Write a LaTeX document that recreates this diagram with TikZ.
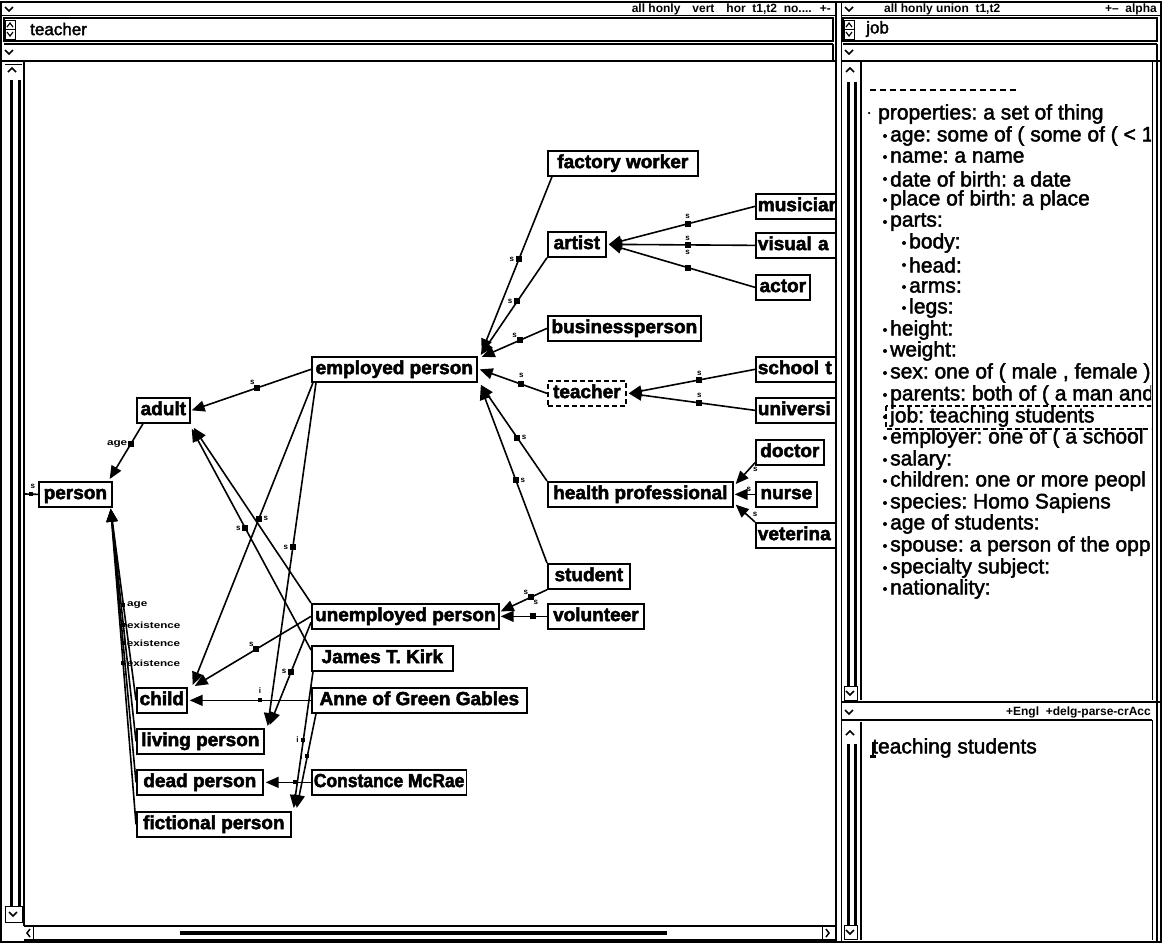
\documentclass[tikz,border=0pt]{standalone}
\usepackage{fontspec}
\setmainfont{Liberation Sans}
\newfontfamily\widefont[FakeStretch=1.3]{Liberation Sans}
\newfontfamily\nodefont[UprightFont=* Bold,FakeBold=2.5]{Liberation Sans}
\newfontfamily\narrownodefont[UprightFont=* Bold,FakeBold=2.5,FakeStretch=0.92]{Liberation Sans}
\newfontfamily\listfont[FakeBold=2]{Liberation Sans}
\usetikzlibrary{arrows.meta}
\newcommand\mydown[2]{\draw[chev] (#1-4,#2-2) -- (#1,#2+2) -- (#1+4,#2-2);}
\newcommand\myup[2]{\draw[chev] (#1-4,#2+2) -- (#1,#2-2) -- (#1+4,#2+2);}
\begin{document}
\frenchspacing
\begin{tikzpicture}[x=1pt,y=-1pt,
 nb/.style={draw,line width=1.7pt,anchor=north west,inner xsep=2pt,inner ysep=0pt,minimum height=25pt,text height=13.5pt,text depth=4pt,font=\nodefont\fontsize{19}{20}\selectfont},
 ln/.style={line width=1.6pt},
 arr/.style={ln,-{Triangle[length=13pt,width=11pt]}},
 mk/.style={fill,rectangle,minimum size=6pt,inner sep=0pt},
 sl/.style={font=\fontsize{8}{8}\selectfont\bfseries,inner sep=1pt},
 el/.style={font=\widefont\fontsize{9}{9}\selectfont\bfseries,inner sep=0pt},
 li/.style={font=\listfont\fontsize{21}{21}\selectfont,anchor=west,inner sep=0pt},
 tb/.style={font=\fontsize{12}{12}\selectfont\bfseries,inner sep=0pt},
 bar/.style={line width=1.2pt},
 chev/.style={line width=1.5pt},
 dot/.style={fill,circle,inner sep=0pt,minimum size=4pt},
]
\useasboundingbox (0,0) rectangle (1162,943);
\fill[white] (0,0) rectangle (1162,943);

% ---------- window frames ----------
\draw[line width=2pt] (1,2) rectangle (1161,942);
\draw[line width=2pt] (836,2) -- (836,942);
\draw[line width=1pt] (841,2) -- (841,942);

% left title bar
\mydown{9}{9}
\node[tb,anchor=east] at (812,9) {all honly\quad vert\quad hor\ \ t1,t2\ \ no....};
\node[tb,anchor=east] at (831,9) {+-};
\draw[bar] (2,15.5) -- (836,15.5);
% teacher bar
\draw[bar] (4,18) rectangle (833,41);
\draw[line width=1pt] (5,20) rectangle (15,39);
\draw[line width=1pt] (5,29.5) -- (15,29.5);
\draw[line width=1.2pt] (7,27) -- (10,23) -- (13,27);
\draw[line width=1.2pt] (7,32) -- (10,36) -- (13,32);
\node[anchor=west,font=\listfont\fontsize{17}{17}\selectfont,inner sep=0pt] at (30,29) {teacher};
% second bar
\draw[bar] (4,44) -- (833,44);
\draw[bar] (2,61) -- (836,61);
\draw[bar] (833,44) -- (833,61);
\mydown{9}{52}
% left scrollbar
\myup{12}{70}
\draw[line width=1pt] (5,64) -- (22,64);
\draw[line width=3pt] (11,80) -- (11,906);
\draw[line width=3pt] (19,80) -- (19,906);
\draw[line width=1pt] (5,906) rectangle (22,922);
\mydown{13}{914}
\draw[bar] (24,62) -- (24,926);
% bottom scrollbar
\draw[bar] (24,926) -- (836,926);
\draw[bar] (24,940) -- (836,940);
\draw[line width=1pt] (33,926) -- (33,940);
\draw[line width=1pt] (822,926) -- (822,940);
\draw[chev] (30,929) -- (27,933) -- (30,937);
\draw[chev] (826,929) -- (829,933) -- (826,937);
\draw[line width=4pt] (180,933) -- (667,933);

% right title bar
\mydown{849}{9}
\node[tb,anchor=west] at (884,9) {all honly union\ \ t1,t2};
\node[tb,anchor=east] at (1157,9) {+-- \ alpha};
\draw[bar] (841,15.5) -- (1160,15.5);
% job bar
\draw[bar] (843,18) rectangle (1157,41);
\draw[line width=1pt] (844,20) rectangle (854,39);
\draw[line width=1pt] (844,29.5) -- (854,29.5);
\draw[line width=1.2pt] (846,27) -- (849,23) -- (852,27);
\draw[line width=1.2pt] (846,32) -- (849,36) -- (852,32);
\node[anchor=west,font=\listfont\fontsize{17}{17}\selectfont,inner sep=0pt] at (866,29) {job};
\draw[bar] (843,44) -- (1157,44);
\draw[bar] (841,61) -- (1160,61);
\draw[bar] (1157,44) -- (1157,61);
\mydown{849}{52}
% list panel
\myup{850}{70}
\draw[line width=3pt] (848,82) -- (848,686);
\draw[line width=3pt] (855,82) -- (855,686);
\draw[line width=1pt] (844,686) rectangle (857,700);
\mydown{850}{693}
\draw[bar] (861,62) -- (861,700);
\draw[line width=1pt] (1152,62) -- (1152,700);
\draw[bar] (1157,62) -- (1157,942);
\draw[bar] (841,702) -- (1160,702);
\mydown{849}{712}
\node[tb,anchor=east] at (1151,712) {+Engl\ \ +delg-parse-crAcc};
\draw[bar] (841,720) -- (1152,720);
\draw[line width=1pt] (1152,720) -- (1152,940);
% text pane
\myup{850}{733}
\draw[line width=3pt] (848,744) -- (848,925);
\draw[line width=3pt] (855,744) -- (855,925);
\draw[line width=1pt] (844,925) rectangle (857,939);
\mydown{850}{932}
\draw[bar] (861,722) -- (861,940);
\node[li] at (872,748) {teaching students};
\draw[line width=1.5pt] (873,742) -- (873,757);
\fill (870,755) rectangle (876,758);

% ---------- property list ----------
\begin{scope}
\clip (862,62) rectangle (1151,700);
\draw[line width=1.6pt,dash pattern=on 6pt off 4pt] (870,90) -- (1018,90);
\node[dot,minimum size=2.5pt] at (869,113) {};
\node[li] at (878,114) {properties: a set of thing};
\node[dot] at (885,136) {}; \node[li] at (890,136) {age: some of ( some of ( < 1};
\node[dot] at (885,157) {}; \node[li] at (890,157) {name: a name};
\node[dot] at (885,179) {}; \node[li] at (890,179) {date of birth: a date};
\node[dot] at (885,200) {}; \node[li] at (890,200) {place of birth: a place};
\node[dot] at (885,222) {}; \node[li] at (890,222) {parts:};
\node[dot] at (904,243) {}; \node[li] at (909,243) {body:};
\node[dot] at (904,265) {}; \node[li] at (909,265) {head:};
\node[dot] at (904,287) {}; \node[li] at (909,287) {arms:};
\node[dot] at (904,308) {}; \node[li] at (909,308) {legs:};
\node[dot] at (885,330) {}; \node[li] at (890,330) {height:};
\node[dot] at (885,351) {}; \node[li] at (890,351) {weight:};
\node[dot] at (885,373) {}; \node[li] at (890,373) {sex: one of ( male , female )};
\node[dot] at (885,395) {}; \node[li] at (890,395) {parents: both of ( a man and};
\node[dot] at (885,417) {}; \node[li] at (890,417) {job: teaching students};
\draw[line width=1.8pt,dash pattern=on 5pt off 3pt] (886,406) rectangle (1160,429);
\node[dot] at (885,438) {}; \node[li] at (890,438) {employer: one of ( a school};
\node[dot] at (885,460) {}; \node[li] at (890,460) {salary:};
\node[dot] at (885,481) {}; \node[li] at (890,481) {children: one or more peopl};
\node[dot] at (885,503) {}; \node[li] at (890,503) {species: Homo Sapiens};
\node[dot] at (885,524) {}; \node[li] at (890,524) {age of students:};
\node[dot] at (885,546) {}; \node[li] at (890,546) {spouse: a person of the opp};
\node[dot] at (885,568) {}; \node[li] at (890,568) {specialty subject:};
\node[dot] at (885,589) {}; \node[li] at (890,589) {nationality:};
\end{scope}

% ---------- graph ----------
\begin{scope}
\clip (25,62) rectangle (835,925);
\node[nb,minimum width=150pt] (fw) at (547,150) {factory worker};
\node[nb,minimum width=58pt] (artist) at (547,231) {artist};
\node[nb,minimum width=153pt] (bp) at (547,315) {businessperson};
\node[nb,minimum width=165pt] (ep) at (311,356) {employed person};
\node[nb,dash pattern=on 5pt off 3pt,minimum width=78pt] (teacher) at (547,380) {teacher};
\node[nb,text width=90pt,align=left] (mus) at (755,193) {\mbox{musician}};
\node[nb,text width=90pt,align=left] (va) at (755,232) {\mbox{visual a}};
\node[nb,minimum width=54pt] (actor) at (755,274) {actor};
\node[nb,text width=90pt,align=left] (st) at (755,356) {\mbox{school t}};
\node[nb,text width=90pt,align=left] (univ) at (755,397) {\mbox{universi}};
\node[nb,minimum width=68pt] (doctor) at (755,439) {doctor};
\node[nb,minimum width=185pt] (hp) at (547,481) {health professional};
\node[nb,minimum width=61pt] (nurse) at (755,481) {nurse};
\node[nb,text width=90pt,align=left] (vet) at (755,522) {\mbox{veterina}};
\node[nb,minimum width=82pt] (student) at (547,563) {student};
\node[nb,minimum width=96pt] (vol) at (547,603) {volunteer};
\node[nb,minimum width=187pt] (up) at (311,603) {unemployed person};
\node[nb,minimum width=141pt] (jtk) at (311,645) {James T. Kirk};
\node[nb,minimum width=215pt] (anne) at (311,687) {Anne of Green Gables};
\node[nb,minimum width=151pt,font=\narrownodefont\fontsize{19}{20}\selectfont] (cm) at (311,769) {Constance McRae};
\node[nb,minimum width=53pt] (adult) at (136,397) {adult};
\node[nb,minimum width=73pt] (person) at (38,481) {person};
\node[nb,minimum width=50pt] (child) at (136,687) {child};
\node[nb,minimum width=127pt] (living) at (136,728) {living person};
\node[nb,minimum width=126pt] (dead) at (136,769) {dead person};
\node[nb,minimum width=154pt] (fict) at (136,811) {fictional person};

% employed person subtree
\draw[arr] ([xshift=5pt]fw.south west) -- node[mk,pos=.47]{} node[sl,pos=.47,left=3pt]{s} ([xshift=4pt,yshift=4pt]ep.north east);
\draw[arr] (artist.south west) -- node[mk,pos=.45]{} node[sl,pos=.45,left=3pt]{s} ([xshift=3pt,yshift=1pt]ep.north east);
\draw[arr] (bp.west) -- node[mk,pos=.42]{} node[sl,pos=.42,above left=1pt]{s} ([xshift=4pt,yshift=-1pt]ep.north east);
\draw[arr] (teacher.west) -- node[mk,pos=.38]{} node[sl,pos=.38,above=5pt]{s} ([xshift=2pt]ep.east);
\draw[arr] (hp.north west) -- node[mk,pos=.45]{} node[sl,pos=.45,right=3pt]{s} ([xshift=3pt,yshift=-2pt]ep.south east);
\draw[arr] (student.north west) -- node[mk,pos=.47]{} node[sl,pos=.47,right=3pt]{s} ([xshift=3pt,yshift=-4pt]ep.south east);
% artist
\draw[arr] (mus.west) -- node[mk,pos=.46]{} node[sl,pos=.46,above=3pt]{s} ([xshift=2pt]artist.east);
\draw[arr] (va.west) -- node[mk,pos=.46]{} node[sl,pos=.46,above=3pt]{s} node[sl,pos=.46,below=3pt]{s} ([xshift=2pt]artist.east);
\draw[arr] (actor.west) -- node[mk,pos=.46]{} ([xshift=2pt]artist.east);
% teacher
\draw[arr] (st.west) -- node[mk,pos=.44]{} node[sl,pos=.44,above=3pt]{s} ([xshift=2pt]teacher.east);
\draw[arr] (univ.west) -- node[mk,pos=.44]{} node[sl,pos=.44,above=3pt]{s} ([xshift=2pt]teacher.east);
% health professional
\draw[arr] ([yshift=3pt]doctor.south west) -- node[sl,pos=.3,right=2pt]{s} ([xshift=2pt,yshift=-3pt]hp.north east);
\draw[arr] (nurse.west) -- node[sl,pos=.3,above=1pt]{s} ([xshift=1pt]hp.east);
\draw[arr] (vet.north west) -- node[sl,pos=.2,above right=0pt]{s} ([xshift=2pt,yshift=3pt]hp.south east);
% unemployed person
\draw[arr] (student.south west) -- node[mk,pos=.35]{} node[sl,pos=.35,above left=1pt]{s} node[sl,pos=.35,below right=1pt]{s} ([xshift=1pt,yshift=5pt]up.east);
\draw[arr] (vol.west) -- node[mk,pos=.3]{} ([xshift=1pt]up.east);
% adult / child / living
\draw[arr] (ep.west) -- node[mk,pos=.45]{} node[sl,pos=.45,above left=1pt]{s} ([xshift=1pt]adult.east);
\draw[arr] ([xshift=7pt]adult.south west) -- node[mk,pos=.36]{} node[el,pos=.36,left=3pt]{age} ([xshift=-3pt,yshift=2pt]person.north east);
\draw[arr] ([xshift=2pt]ep.south west) -- node[mk,pos=.45]{} node[sl,pos=.45,right=3pt]{s} ([xshift=5pt,yshift=2pt]child.north east);
\draw[arr] ([xshift=5pt]ep.south west) -- node[mk,pos=.48]{} node[sl,pos=.48,left=3pt]{s} ([xshift=3pt,yshift=2pt]living.north east);
\draw[arr] (up.north west) -- ([xshift=3pt,yshift=-4pt]adult.south east);
\draw[arr] ([yshift=-5pt]jtk.north west) -- node[mk,pos=.55]{} node[sl,pos=.55,left=3pt]{s} ([xshift=1pt,yshift=-5pt]adult.south east);
\draw[arr] (up.west) -- node[mk,pos=.47]{} node[sl,pos=.47,above left=1pt]{s} ([xshift=7pt,yshift=1pt]child.north east);
\draw[arr] ([yshift=-6pt]up.west) -- node[mk,pos=.48]{} node[sl,pos=.48,left=3pt]{s} ([xshift=5pt,yshift=3pt]living.north east);
\draw[arr] (anne.west) -- node[mk,pos=.42,minimum size=4pt]{} node[sl,pos=.42,above=5pt]{i} ([xshift=2pt]child.east);
\draw[arr] ([xshift=2pt]jtk.south west) -- node[mk,pos=.5,minimum size=4pt]{} node[sl,pos=.5,left=3pt]{i} ([xshift=2pt,yshift=3pt]fict.north east);
\draw[arr] ([xshift=5pt]anne.south west) -- node[mk,pos=.45,minimum size=4pt]{} node[sl,pos=.45,left=3pt]{i} ([xshift=5pt,yshift=3pt]fict.north east);
\draw[arr] (cm.west) -- node[mk,pos=.35,minimum size=4pt]{} ([xshift=2pt]dead.east);
% person bundle
\coordinate (pb) at ([xshift=-2pt,yshift=-1pt]person.south east);
\draw[arr] (child.west) -- node[mk,pos=.5,minimum size=4pt]{} node[el,pos=.5,right=3pt]{age} (pb);
\draw[arr] (living.west) -- node[mk,pos=.5,minimum size=4pt]{} node[el,pos=.5,right=3pt]{existence} (pb);
\draw[arr] (dead.west) -- node[mk,pos=.51,minimum size=4pt]{} node[el,pos=.51,right=3pt]{existence} (pb);
\draw[arr] (fict.west) -- node[mk,pos=.51,minimum size=4pt]{} node[el,pos=.51,right=3pt]{existence} (pb);
% person to the left
\coordinate (pl) at (25,494);
\draw[ln] (pl) -- node[mk,pos=.45,minimum size=4pt]{} node[sl,pos=.6,above=4pt]{s} (person.west);
\end{scope}
\end{tikzpicture}
\end{document}
